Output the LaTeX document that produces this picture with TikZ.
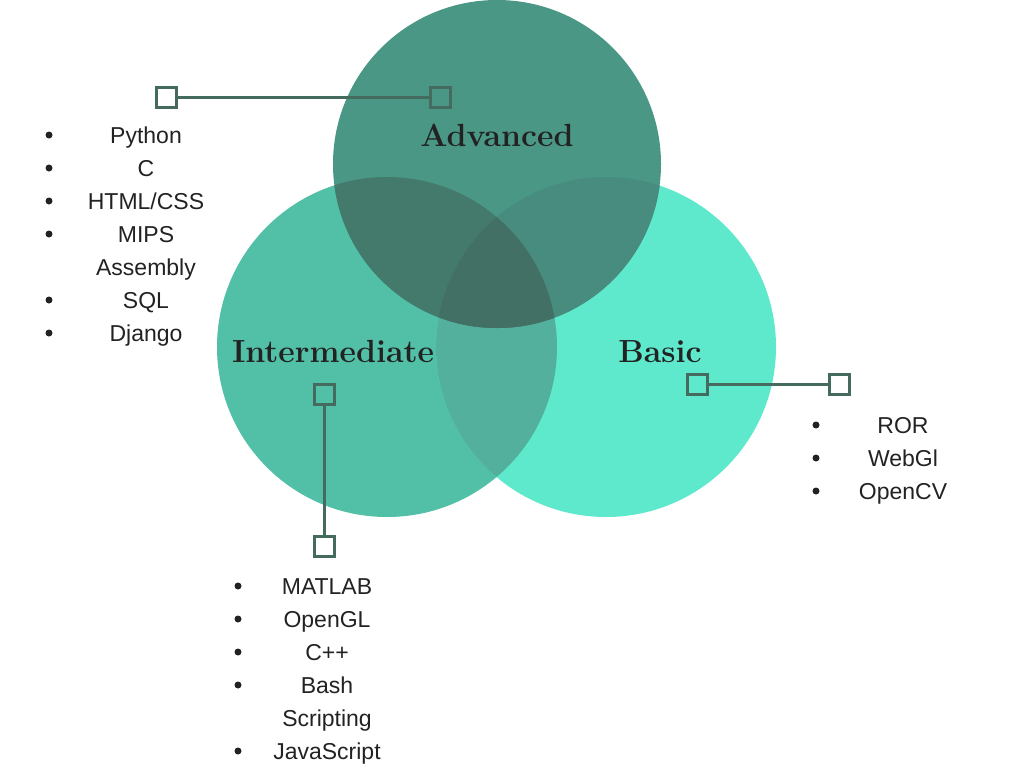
\documentclass[tikz,border=0pt]{standalone}
\usepackage{fontspec}
\newfontfamily\listfont{Liberation Sans}
\usetikzlibrary{positioning}
\definecolor{intfill}{HTML}{52BFA7}
\definecolor{basfill}{HTML}{5EE9CC}
\definecolor{advfill}{HTML}{4A9785}
\definecolor{ibfill}{HTML}{53B09C}
\definecolor{aifill}{HTML}{437A6C}
\definecolor{abfill}{HTML}{478C7E}
\definecolor{aibfill}{HTML}{437064}
\definecolor{linkgreen}{HTML}{456B5E}
\definecolor{ink}{HTML}{222222}

\begin{document}
\begin{tikzpicture}[x=1pt,y=-1pt,
  box/.style={draw=linkgreen,line width=3pt,minimum size=20pt,inner sep=0pt},
  link/.style={draw=linkgreen,line width=3pt},
  item/.style={anchor=base,text=ink,font=\listfont\fontsize{23}{23}\selectfont},
  title/.style={anchor=base,text=ink,font=\bfseries\fontsize{32}{32}\selectfont}]
\useasboundingbox (0,0) rectangle (1024,768);
% circles
\fill[intfill] (387,347) circle (170pt);
\fill[basfill] (606,347) circle (170pt);
\begin{scope}
\clip (387,347) circle (170pt);
\fill[ibfill] (606,347) circle (170pt);
\end{scope}
\fill[advfill] (497,164) circle (164pt);
\begin{scope}
\clip (497,164) circle (164pt);
\fill[aifill] (387,347) circle (170pt);
\fill[abfill] (606,347) circle (170pt);
\clip (387,347) circle (170pt);
\fill[aibfill] (606,347) circle (170pt);
\end{scope}
%
\node (adv) [title] at (497,146) {Advanced};
\node (int) [title] at (333,362) {Intermediate};
\node (bas) [title] at (660,362) {Basic};
%
\node (advL) [box] at (166,97.5) {};
\node (advR) [box] at (440.5,97.5) {};
\node (basL) [box] at (697.5,384) {};
\node (basR) [box] at (839.5,384) {};
\node (intT) [box] at (324,394.5) {};
\node (intB) [box] at (324,546.5) {};
\path[link] (advL) edge (advR);
\path[link] (basL) edge (basR);
\path[link] (intT) edge (intB);
% lists
\foreach \t [count=\i] in {Python,C,HTML/CSS,MIPS,Assembly,SQL,Django}
  \node (adv\i) [item] at (146,{143.5+33*(\i-1)}) {\t};
\foreach \i in {0,1,2,3,5,6}
  \fill[ink] (49,{135+33*\i}) circle (3.5pt);
\foreach \t [count=\i] in {MATLAB,OpenGL,C++,Bash,Scripting,JavaScript}
  \node (int\i) [item] at (327,{594.5+33*(\i-1)}) {\t};
\foreach \i in {0,1,2,3,5}
  \fill[ink] (238,{586+33*\i}) circle (3.5pt);
\foreach \t [count=\i] in {ROR,WebGl,OpenCV}
  \node (bas\i) [item] at (903,{433.5+33*(\i-1)}) {\t};
\foreach \i in {0,1,2}
  \fill[ink] (816,{425+33*\i}) circle (3.5pt);
\end{tikzpicture}
\end{document}
